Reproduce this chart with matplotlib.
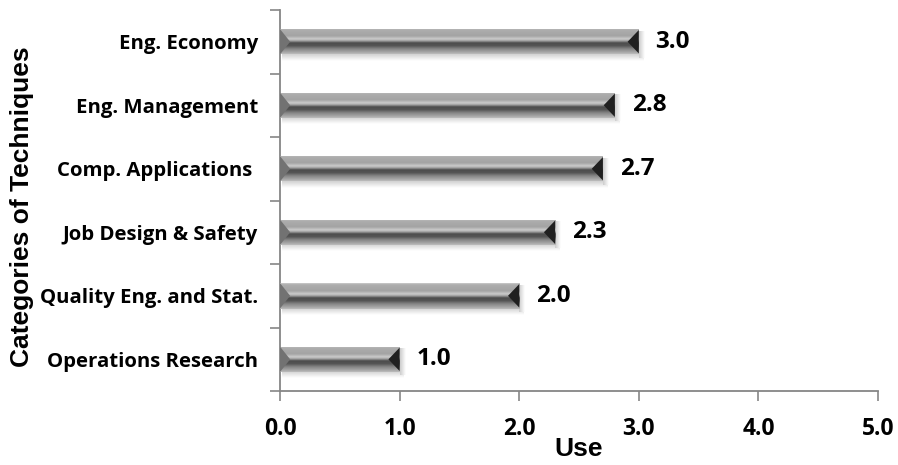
import numpy as np
import matplotlib.pyplot as plt
from matplotlib.patches import Polygon
from matplotlib.font_manager import FontProperties

categories = ["Operations Research", "Quality Eng. and Stat.", "Job Design & Safety",
              "Comp. Applications ", "Eng. Management", "Eng. Economy"]
use_values = [1.0, 2.0, 2.3, 2.7, 2.8, 3.0]
x_ticks = [0.0, 1.0, 2.0, 3.0, 4.0, 5.0]

label_font = "Open Sans"
title_prop = FontProperties(family="Liberation Sans", weight="bold", size=19)
axis_grey = "#868686"

fig = plt.figure(figsize=(8.98, 4.65), dpi=100)
ax = fig.add_axes([0.3118, 0.159, 0.6659, 0.8195])

ypos = np.arange(len(categories))
bars = ax.barh(ypos, use_values, height=0.4, color="none", edgecolor="none", zorder=3)

# vertical shading profile of the bevelled bars (0 = top edge, 1 = bottom edge)
stops = [0.00, 0.06, 0.30, 0.42, 0.50, 0.57, 0.68, 0.80, 0.92, 1.00]
greys = [0.80, 0.68, 0.64, 0.80, 0.60, 0.30, 0.33, 0.52, 0.64, 0.74]
rows = np.interp(np.linspace(0, 1, 120), stops, greys)
shade = np.repeat(rows[:, None], 2, axis=1)

cap = 0.085  # bevel width in data units
for bar in bars:
    x0, y0 = bar.get_x(), bar.get_y()
    w, h = bar.get_width(), bar.get_height()
    x1, y1 = x0 + w, y0 + h
    ym = y0 + h * 0.5
    # soft drop shadow below and right of the bar
    fade = np.linspace(0.82, 1.0, 30)[:, None].repeat(2, axis=1)
    ax.imshow(fade, cmap="gray", vmin=0, vmax=1, extent=(x0 + 0.02, x1 + 0.04, y0 - 0.1, y0),
              aspect="auto", interpolation="bilinear", zorder=2)
    side = np.linspace(0.80, 1.0, 30)[None, :].repeat(2, axis=0)
    ax.imshow(side, cmap="gray", vmin=0, vmax=1, extent=(x1, x1 + 0.05, y0 - 0.05, y1 - 0.04),
              aspect="auto", interpolation="bilinear", zorder=2)
    im = ax.imshow(shade, cmap="gray", vmin=0, vmax=1, extent=(x0, x1, y0, y1),
                   aspect="auto", interpolation="bilinear", zorder=3)
    im.set_clip_path(bar)
    # bevelled ends
    ax.add_patch(Polygon([(x0, y1), (x0 + cap, ym), (x0, y0)],
                         closed=True, facecolor="#727272", edgecolor="none", zorder=4))
    ax.add_patch(Polygon([(x1, y1 - h * 0.04), (x1 - cap * 1.1, ym), (x1, y0 + h * 0.04)],
                         closed=True, facecolor="#202020", edgecolor="none", zorder=4))
    ax.text(x1 + 0.14, ym, f"{w:.1f}", va="center", ha="left",
            fontsize=17.5, fontweight="bold", family=label_font, zorder=5)

ax.set_xlim(0, 5)
ax.set_ylim(-0.5, len(categories) - 0.5)

ax.set_xticks(x_ticks)
ax.set_xticklabels([f"{t:.1f}" for t in x_ticks], fontsize=16.5, fontweight="bold", family=label_font)
ax.set_yticks(ypos)
ax.set_yticklabels(categories, fontsize=14.7, fontweight="bold", family=label_font)
ax.set_yticks(np.arange(-0.5, len(categories)), minor=True)
ax.tick_params(axis="y", which="major", length=0, pad=16)
ax.tick_params(axis="y", which="minor", length=7, width=1.2, color=axis_grey)
ax.tick_params(axis="x", which="major", length=7, width=1.2, color=axis_grey, pad=12)

for s in ["top", "right"]:
    ax.spines[s].set_visible(False)
for s in ["left", "bottom"]:
    ax.spines[s].set_color(axis_grey)
    ax.spines[s].set_linewidth(1.3)

ax.set_xlabel("Use", fontproperties=title_prop, labelpad=-3)
ax.set_ylabel("Categories of Techniques", fontproperties=title_prop)
ax.yaxis.set_label_coords(-0.411, 0.485)

fig.savefig("out.png", dpi=100)
